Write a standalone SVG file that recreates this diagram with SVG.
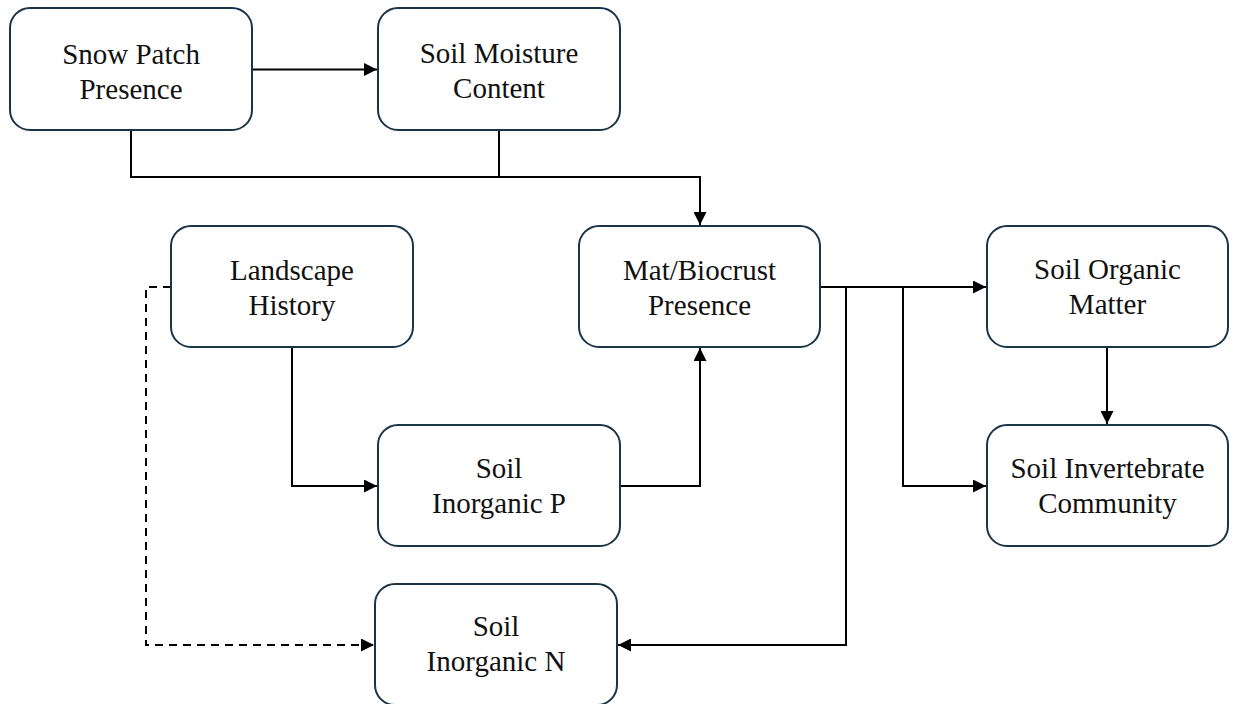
<svg xmlns="http://www.w3.org/2000/svg" width="1233" height="704" viewBox="0 0 1233 704">
<style>
.box{fill:#ffffff;stroke:#1a3547;stroke-width:2}
.lbl{font-family:"Liberation Serif","Times New Roman",serif;font-size:29px;fill:#111111;text-anchor:middle}
.ln{fill:none;stroke:#000000;stroke-width:2}
.dash{stroke-dasharray:8 6}
</style>
<defs>
<marker id="arr" markerUnits="userSpaceOnUse" markerWidth="13" markerHeight="13" refX="13" refY="6.5" orient="auto">
<path d="M0,0 L13,6.5 L0,13 z" fill="#000000"/>
</marker>
</defs>
<rect width="1233" height="704" fill="#ffffff"/>
<g id="connectors">
<path class="ln" d="M252,69.5 H377" marker-end="url(#arr)"/>
<path class="ln" d="M131,130 V177 H700 V225" marker-end="url(#arr)"/>
<path class="ln" d="M499,130 V177"/>
<path class="ln" d="M292,347 V486 H377" marker-end="url(#arr)"/>
<path class="ln" d="M620,486 H700 V348" marker-end="url(#arr)"/>
<path class="ln" d="M820,287 H986" marker-end="url(#arr)"/>
<path class="ln" d="M846,287 V645 H618" marker-end="url(#arr)"/>
<path class="ln" d="M903,287 V486 H986" marker-end="url(#arr)"/>
<path class="ln" d="M1107,347 V424" marker-end="url(#arr)"/>
<path class="ln dash" d="M171,287 H146 V645 H374" marker-end="url(#arr)"/>
</g>
<g id="snow">
<rect class="box" x="10" y="8" width="242" height="122" rx="20"/>
<text class="lbl" x="131" y="64">Snow Patch</text>
<text class="lbl" x="131" y="99">Presence</text>
</g>
<g id="moisture">
<rect class="box" x="378" y="8" width="242" height="122" rx="20"/>
<text class="lbl" x="499" y="63">Soil Moisture</text>
<text class="lbl" x="499" y="98">Content</text>
</g>
<g id="landscape">
<rect class="box" x="171" y="226" width="242" height="121" rx="20"/>
<text class="lbl" x="292" y="280">Landscape</text>
<text class="lbl" x="292" y="315">History</text>
</g>
<g id="mat">
<rect class="box" x="579" y="226" width="241" height="121" rx="20"/>
<text class="lbl" x="699.5" y="280">Mat/Biocrust</text>
<text class="lbl" x="699.5" y="315">Presence</text>
</g>
<g id="organic">
<rect class="box" x="987" y="226" width="241" height="121" rx="20"/>
<text class="lbl" x="1107.5" y="279">Soil Organic</text>
<text class="lbl" x="1107.5" y="314">Matter</text>
</g>
<g id="inorganicP">
<rect class="box" x="378" y="425" width="242" height="121" rx="20"/>
<text class="lbl" x="499" y="478">Soil</text>
<text class="lbl" x="499" y="513">Inorganic P</text>
</g>
<g id="invertebrate">
<rect class="box" x="987" y="425" width="241" height="121" rx="20"/>
<text class="lbl" x="1107.5" y="478">Soil Invertebrate</text>
<text class="lbl" x="1107.5" y="513">Community</text>
</g>
<g id="inorganicN">
<rect class="box" x="375" y="584" width="242" height="121" rx="20"/>
<text class="lbl" x="496" y="636">Soil</text>
<text class="lbl" x="496" y="671">Inorganic N</text>
</g>
</svg>
